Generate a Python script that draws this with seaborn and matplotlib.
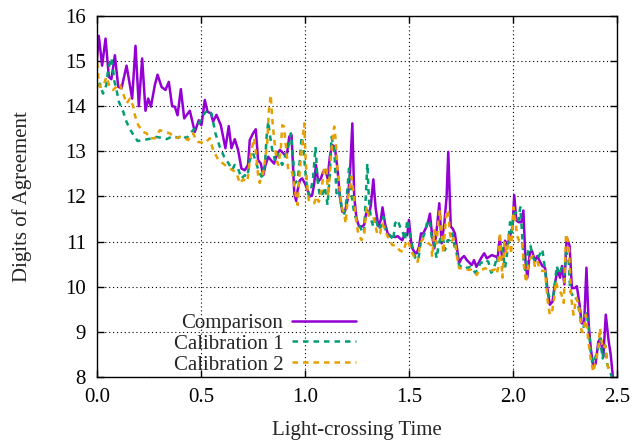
import numpy as np
import pandas as pd
import matplotlib
matplotlib.use("Agg")
import matplotlib.pyplot as plt
import seaborn as sns

# Comparison (solid purple)
comp_t = [0.0, 0.0096, 0.0256, 0.042, 0.058, 0.07, 0.087, 0.103, 0.119, 0.143, 0.17, 0.186, 0.202,
          0.218, 0.234, 0.247, 0.26, 0.279, 0.292, 0.311, 0.33, 0.346, 0.362, 0.375, 0.388, 0.404,
          0.42, 0.447, 0.471, 0.49, 0.503, 0.519, 0.532, 0.548, 0.559, 0.575, 0.596, 0.618, 0.634,
          0.647, 0.663, 0.679, 0.695, 0.711, 0.727, 0.735, 0.751, 0.764, 0.775, 0.788, 0.8, 0.811,
          0.824, 0.836, 0.852, 0.864, 0.88, 0.896, 0.912, 0.925, 0.936, 0.949, 0.958, 0.965, 0.976,
          0.987, 1.0, 1.013, 1.024, 1.035, 1.045, 1.053, 1.064, 1.077, 1.088, 1.099, 1.109, 1.12,
          1.131, 1.144, 1.157, 1.168, 1.18, 1.192, 1.205, 1.216, 1.228, 1.237, 1.248, 1.26, 1.272,
          1.285, 1.297, 1.308, 1.317, 1.329, 1.34, 1.353, 1.365, 1.373, 1.385, 1.398, 1.409, 1.42,
          1.433, 1.446, 1.457, 1.468, 1.481, 1.492, 1.5, 1.513, 1.526, 1.537, 1.548, 1.558, 1.569,
          1.58, 1.59, 1.601, 1.612, 1.622, 1.633, 1.646, 1.657, 1.67, 1.681, 1.689, 1.701, 1.71,
          1.721, 1.729, 1.741, 1.753, 1.765, 1.778, 1.789, 1.802, 1.813, 1.824, 1.837, 1.85, 1.862,
          1.874, 1.885, 1.898, 1.91, 1.922, 1.926, 1.936, 1.949, 1.962, 1.973, 1.986, 1.998, 2.006,
          2.016, 2.027, 2.04, 2.05, 2.06, 2.069, 2.081, 2.092, 2.105, 2.117, 2.128, 2.141, 2.154,
          2.166, 2.177, 2.19, 2.201, 2.214, 2.226, 2.236, 2.247, 2.258, 2.272, 2.283, 2.296, 2.307,
          2.32, 2.33, 2.342, 2.353, 2.364, 2.374, 2.386, 2.397, 2.41, 2.421, 2.434, 2.446, 2.459,
          2.47, 2.48]
comp_v = [15.0, 15.56, 14.9, 15.5, 14.65, 14.6, 15.13, 14.43, 14.4, 14.9, 14.17, 15.34, 14.0,
          15.06, 13.9, 14.17, 13.99, 14.47, 14.7, 14.43, 14.36, 14.54, 14.0, 13.99, 13.8, 14.38,
          13.73, 13.9, 13.43, 13.69, 13.58, 14.14, 13.88, 13.84, 13.66, 13.81, 13.58, 13.07, 13.56,
          13.07, 13.27, 13.03, 12.62, 12.58, 12.7, 13.25, 13.4, 13.49, 12.81, 12.73, 12.47, 12.7,
          12.88, 12.81, 12.73, 12.92, 13.03, 12.96, 12.88, 13.33, 13.36, 12.07, 11.9, 12.14, 12.36,
          12.4, 12.29, 12.14, 12.0, 12.03, 12.29, 12.7, 12.33, 12.4, 12.55, 12.59, 12.4, 12.88,
          13.14, 13.1, 12.59, 12.0, 11.66, 11.66, 11.92, 12.44, 13.62, 12.0, 11.51, 11.34, 11.33,
          11.37, 11.7, 11.59, 11.81, 12.38, 11.74, 11.34, 11.48, 11.76, 11.4, 11.18, 11.12, 11.11,
          11.1, 11.12, 11.07, 11.03, 11.18, 11.14, 11.48, 10.88, 10.77, 10.74, 10.88, 11.18, 11.18,
          11.29, 11.4, 11.62, 11.11, 10.85, 11.25, 11.85, 10.96, 11.4, 11.99, 12.99, 11.33, 11.29,
          11.18, 10.92, 10.52, 10.63, 10.68, 10.59, 10.54, 10.48, 10.59, 10.44, 10.55, 10.66, 10.74,
          10.63, 10.66, 10.7, 10.68, 10.66, 10.61, 11.09, 10.61, 11.02, 10.91, 11.13, 11.32, 12.03,
          11.47, 11.43, 11.43, 11.69, 10.57, 10.2, 10.76, 10.79, 10.57, 10.68, 10.57, 10.46, 10.42,
          9.94, 9.6, 9.67, 10.05, 10.38, 10.2, 10.46, 10.05, 11.09, 10.91, 9.97, 9.97, 10.01,
          9.6, 9.19, 9.19, 10.42, 9.15, 8.63, 8.22, 8.29, 8.78, 8.85, 8.44, 9.38, 8.82,
          8.48, 8.0]

# Calibration 1 (green dashes)
cal1_t = [0.0, 0.015, 0.03, 0.046, 0.054, 0.07, 0.078, 0.083, 0.095, 0.106, 0.127, 0.143, 0.167,
          0.196, 0.223, 0.247, 0.287, 0.311, 0.335, 0.367, 0.391, 0.41, 0.431, 0.455, 0.479, 0.487,
          0.511, 0.532, 0.551, 0.57, 0.591, 0.612, 0.631, 0.651, 0.663, 0.679, 0.695, 0.711, 0.724,
          0.735, 0.751, 0.767, 0.779, 0.792, 0.808, 0.816, 0.824, 0.832, 0.843, 0.856, 0.868, 0.88,
          0.891, 0.904, 0.917, 0.933, 0.944, 0.952, 0.965, 0.976, 0.984, 0.992, 1.0, 1.008, 1.019,
          1.029, 1.04, 1.051, 1.061, 1.072, 1.083, 1.096, 1.109, 1.12, 1.128, 1.141, 1.152, 1.164,
          1.176, 1.189, 1.2, 1.212, 1.221, 1.228, 1.237, 1.248, 1.26, 1.272, 1.284, 1.292, 1.3,
          1.308, 1.317, 1.329, 1.34, 1.353, 1.365, 1.377, 1.388, 1.401, 1.414, 1.425, 1.433, 1.446,
          1.457, 1.468, 1.481, 1.492, 1.5, 1.51, 1.521, 1.532, 1.545, 1.558, 1.569, 1.58, 1.59,
          1.601, 1.609, 1.617, 1.625, 1.633, 1.641, 1.654, 1.665, 1.673, 1.686, 1.697, 1.709, 1.718,
          1.729, 1.741, 1.753, 1.77, 1.782, 1.794, 1.805, 1.818, 1.83, 1.843, 1.858, 1.869, 1.882,
          1.895, 1.906, 1.922, 1.926, 1.937, 1.949, 1.962, 1.973, 1.986, 1.994, 2.003, 2.014, 2.027,
          2.035, 2.043, 2.052, 2.06, 2.071, 2.084, 2.096, 2.109, 2.125, 2.141, 2.154, 2.166, 2.177,
          2.19, 2.198, 2.21, 2.223, 2.234, 2.247, 2.255, 2.267, 2.275, 2.285, 2.296, 2.307, 2.317,
          2.329, 2.34, 2.353, 2.364, 2.373, 2.382, 2.394, 2.405, 2.418, 2.431, 2.443, 2.454, 2.467,
          2.475]
cal1_v = [14.45, 14.5, 14.28, 14.47, 14.8, 15.07, 14.84, 14.58, 14.36, 14.1, 13.88, 13.65, 13.43,
          13.23, 13.25, 13.27, 13.32, 13.3, 13.27, 13.34, 13.3, 13.36, 13.29, 13.43, 13.54, 13.58,
          13.8, 13.92, 13.84, 13.4, 13.1, 12.88, 12.75, 12.59, 12.7, 12.62, 12.4, 12.47, 12.44,
          12.81, 12.96, 12.73, 12.55, 12.44, 12.7, 13.33, 13.66, 13.36, 13.03, 12.81, 12.96, 12.81,
          12.7, 12.88, 13.03, 13.4, 12.81, 12.29, 12.36, 12.81, 13.32, 13.14, 12.66, 12.29, 12.03,
          12.14, 12.44, 13.1, 12.36, 12.0, 12.03, 12.21, 11.81, 12.51, 13.32, 13.03, 12.07, 12.14,
          11.77, 11.62, 11.92, 12.62, 12.14, 11.92, 11.62, 11.48, 11.37, 11.26, 11.18, 11.92, 12.73,
          11.92, 11.51, 11.33, 11.55, 11.26, 11.33, 11.55, 11.26, 11.18, 11.11, 11.03, 11.4, 11.48,
          11.33, 11.25, 11.03, 11.48, 11.33, 11.03, 10.81, 10.63, 10.59, 11.03, 11.11, 11.25, 11.48,
          11.4, 11.11, 11.03, 10.85, 10.63, 10.88, 11.14, 11.03, 10.81, 11.03, 11.03, 11.18, 10.92,
          10.74, 10.48, 10.44, 10.46, 10.41, 10.44, 10.41, 10.31, 10.37, 10.52, 10.55, 10.6, 10.55,
          10.31, 10.37, 10.63, 10.57, 10.94, 10.83, 10.42, 10.79, 11.43, 11.2, 11.6, 11.65, 11.47,
          11.76, 11.24, 10.5, 10.35, 10.76, 10.91, 10.64, 10.57, 10.68, 10.83, 10.38, 9.86, 9.75,
          9.75, 9.9, 10.46, 10.27, 10.42, 10.27, 10.76, 10.61, 9.9, 9.82, 9.71, 9.75, 9.49,
          9.15, 9.11, 9.45, 9.08, 8.59, 8.29, 8.41, 8.56, 8.85, 8.41, 8.7, 8.26, 8.11,
          8.0]

# Calibration 2 (orange dashes)
cal2_t = [0.0, 0.006, 0.014, 0.03, 0.046, 0.062, 0.078, 0.094, 0.11, 0.127, 0.143, 0.159, 0.175,
          0.183, 0.199, 0.223, 0.239, 0.255, 0.279, 0.303, 0.327, 0.351, 0.375, 0.399, 0.423, 0.439,
          0.463, 0.479, 0.487, 0.519, 0.543, 0.559, 0.583, 0.615, 0.639, 0.671, 0.687, 0.703, 0.724,
          0.735, 0.747, 0.756, 0.767, 0.775, 0.783, 0.8, 0.811, 0.82, 0.827, 0.836, 0.843, 0.852,
          0.864, 0.872, 0.884, 0.891, 0.9, 0.907, 0.92, 0.936, 0.945, 0.952, 0.965, 0.971, 0.981,
          0.992, 0.997, 1.003, 1.01, 1.019, 1.032, 1.045, 1.056, 1.067, 1.08, 1.093, 1.104, 1.112,
          1.125, 1.136, 1.141, 1.148, 1.157, 1.168, 1.176, 1.189, 1.196, 1.205, 1.216, 1.224, 1.232,
          1.24, 1.248, 1.256, 1.272, 1.285, 1.297, 1.308, 1.317, 1.329, 1.337, 1.349, 1.361, 1.372,
          1.385, 1.398, 1.409, 1.42, 1.433, 1.457, 1.473, 1.489, 1.5, 1.513, 1.529, 1.542, 1.553,
          1.569, 1.58, 1.593, 1.606, 1.612, 1.622, 1.633, 1.641, 1.649, 1.657, 1.665, 1.673, 1.681,
          1.689, 1.697, 1.705, 1.713, 1.721, 1.731, 1.741, 1.753, 1.769, 1.786, 1.798, 1.814, 1.826,
          1.837, 1.853, 1.866, 1.878, 1.89, 1.901, 1.914, 1.922, 1.929, 1.937, 1.949, 1.959, 1.97,
          1.981, 1.991, 2.003, 2.008, 2.014, 2.019, 2.03, 2.043, 2.052, 2.063, 2.073, 2.084, 2.096,
          2.105, 2.117, 2.128, 2.141, 2.154, 2.166, 2.177, 2.187, 2.198, 2.206, 2.219, 2.231, 2.244,
          2.255, 2.268, 2.28, 2.291, 2.304, 2.317, 2.33, 2.34, 2.35, 2.361, 2.373, 2.386, 2.397,
          2.41, 2.418, 2.431, 2.443, 2.454, 2.464]
cal2_v = [15.2, 14.69, 14.43, 14.43, 14.65, 14.43, 14.36, 14.43, 14.5, 14.28, 14.06, 14.17, 14.0,
          13.8, 13.58, 13.43, 13.4, 13.29, 13.29, 13.47, 13.43, 13.4, 13.29, 13.32, 13.29, 13.25,
          13.4, 13.23, 13.21, 13.18, 13.29, 13.03, 12.82, 12.7, 12.62, 12.53, 12.29, 12.38, 12.33,
          12.81, 13.1, 13.29, 12.88, 12.47, 12.3, 12.53, 12.88, 13.25, 13.92, 14.25, 13.73, 13.29,
          12.81, 12.7, 13.03, 13.58, 13.55, 13.18, 12.59, 12.59, 12.37, 12.14, 11.81, 12.29, 12.88,
          13.4, 13.62, 12.88, 12.29, 11.92, 11.85, 11.85, 12.0, 11.88, 12.14, 12.66, 12.59, 12.0,
          12.88, 13.4, 13.55, 13.25, 12.59, 12.14, 11.77, 11.62, 11.4, 11.92, 12.21, 12.44, 12.14,
          11.77, 11.4, 11.19, 11.03, 11.18, 11.77, 11.55, 11.55, 11.55, 11.4, 11.14, 11.18, 11.4,
          11.26, 11.11, 11.03, 10.92, 10.92, 10.8, 10.77, 11.03, 10.96, 10.77, 10.63, 10.55, 10.96,
          11.07, 11.03, 10.96, 10.92, 10.66, 11.25, 10.96, 11.48, 11.7, 11.18, 10.74, 11.25, 11.7,
          11.66, 11.18, 10.99, 11.07, 11.03, 10.66, 10.41, 10.41, 10.41, 10.37, 10.38, 10.33, 10.26,
          10.37, 10.38, 10.41, 10.38, 10.33, 10.37, 10.38, 10.29, 10.42, 11.2, 10.2, 10.98, 10.72,
          11.2, 10.72, 11.76, 11.54, 11.39, 11.13, 11.02, 11.03, 10.5, 10.09, 10.5, 10.64, 10.68,
          10.46, 10.57, 10.38, 10.35, 10.35, 9.71, 9.38, 9.41, 9.75, 10.12, 9.9, 9.86, 9.64,
          11.17, 10.94, 9.75, 9.38, 9.75, 9.6, 9.0, 9.0, 9.38, 8.85, 8.41, 8.11, 8.33,
          8.63, 9.08, 8.63, 8.7, 8.26, 8.11]

labels = ["Comparison", "Calibration 1", "Calibration 2"]
colors = ["#9400d3", "#009e73", "#e69f00"]

sns.set_theme(style="ticks")
plt.rcParams["font.family"] = ["Liberation Serif", "DejaVu Serif"]
plt.rcParams["font.size"] = 15

fig = plt.figure(figsize=(6.41, 4.45), dpi=100)
ax = fig.add_axes([0.151, 0.153, 0.8116, 0.811])

series = [(comp_t, comp_v), (cal1_t, cal1_v), (cal2_t, cal2_v)]
for (t, v), lab, col in zip(series, labels, colors):
    df = pd.DataFrame({"t": t, "v": v})
    sns.lineplot(data=df, x="t", y="v", ax=ax, color=col, lw=1.8,
                 sort=False, estimator=None, label=lab)
    if lab != "Comparison":
        ax.lines[-1].set_dashes((2.2, 2.0))

ax.set_xlim(0, 2.5)
ax.set_ylim(8, 16)
ax.set_xticks(np.arange(0, 2.51, 0.5))
ax.set_xticklabels([f"{x:.1f}" for x in np.arange(0, 2.51, 0.5)])
ax.set_yticks(range(8, 17))
ax.set_xlabel("Light-crossing Time", fontsize=15)
ax.set_ylabel("Digits of Agreement", fontsize=15)
ax.xaxis.set_label_coords(0.5, -0.122)
ax.yaxis.set_label_coords(-0.125, 0.5)
ax.tick_params(direction="in", top=True, right=True, length=5, width=1,
               labelsize=15, colors="black")
ax.tick_params(axis="x", pad=8)
ax.tick_params(axis="y", pad=8)
ax.grid(True, linestyle=(0, (1, 2.5)), color="black", lw=0.8)
for s in ax.spines.values():
    s.set_linewidth(1.0)
    s.set_color("black")

ax.legend(loc="lower right", bbox_to_anchor=(0.507, -0.005), markerfirst=False,
          frameon=False, fontsize=15, handlelength=3.1, labelspacing=0.06,
          handletextpad=0.4, borderaxespad=0.0, borderpad=0.2)

fig.savefig("out.png", dpi=100)
